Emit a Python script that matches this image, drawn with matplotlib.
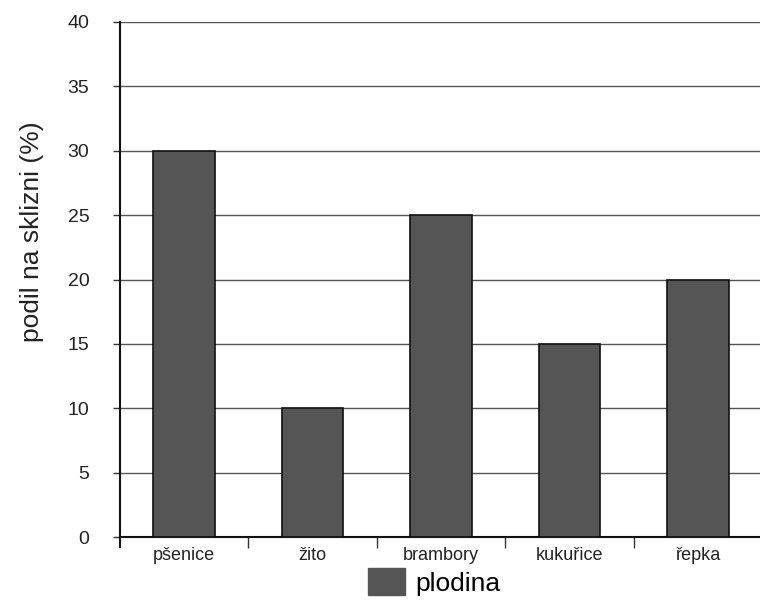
import matplotlib
matplotlib.use("Agg")
import matplotlib.pyplot as plt
from matplotlib.patches import Patch

categories = ["pšenice", "žito", "brambory", "kukuřice", "řepka"]
values = [30, 10, 25, 15, 20]
yticks = [0, 5, 10, 15, 20, 25, 30, 35, 40]
ylabel = "podil na sklizni (%)"
legend_label = "plodina"

plt.rcParams['font.family'] = ['Liberation Sans', 'DejaVu Sans']

fig = plt.figure(figsize=(7.6, 6.16), dpi=100)
ax = fig.add_axes([120/760, 79/616, 642/760, 515/616])

x = list(range(len(categories)))
ax.bar(x, values, width=0.48, color="#555555", edgecolor="#111111", linewidth=1.2,
       zorder=3, label=legend_label)

ax.set_xlim(-0.5, len(categories) - 0.5)
ax.set_ylim(0, 40)
ax.set_yticks(yticks)
ax.set_yticklabels([str(v) for v in yticks], fontsize=14, color="#222222")
ax.yaxis.grid(True, color="#555555", linewidth=1.0, zorder=0)
ax.set_axisbelow(True)

ax.set_xticks(x)
ax.set_xticklabels(categories, fontsize=13, color="#222222")
ax.tick_params(axis='x', which='major', length=0, pad=7)
ax.set_xticks([i + 0.5 for i in x[:-1]], minor=True)
ax.tick_params(axis='x', which='minor', length=8, width=1, direction='out', color="#333333")
ax.tick_params(axis='y', length=5, width=1, direction='out', color="#333333", pad=17)

for s in ['top', 'right']:
    ax.spines[s].set_visible(False)
ax.spines['left'].set_linewidth(1.5)
ax.spines['bottom'].set_linewidth(1.5)
ax.spines['left'].set_color("#111111")
ax.spines['bottom'].set_color("#111111")
ax.spines['left'].set_bounds(-0.8, 40)

ax.set_ylabel(ylabel, fontsize=19, color="#222222")
ax.yaxis.set_label_coords(-0.118, 0.592)

handle = Patch(facecolor="#555555", edgecolor="#555555")
fig.legend([handle], [legend_label], loc='center', bbox_to_anchor=(0.571, 0.055),
           frameon=False, fontsize=19, handlelength=1.4, handleheight=1.2,
           handletextpad=0.4)

fig.savefig("out.png", dpi=100)
